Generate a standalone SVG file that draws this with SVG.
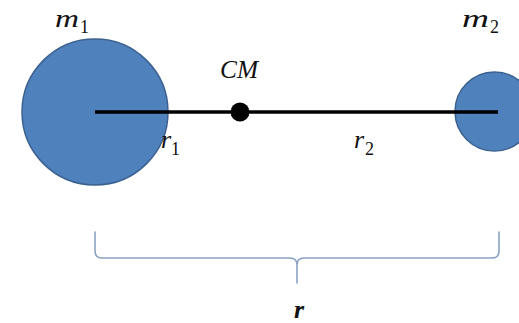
<svg xmlns="http://www.w3.org/2000/svg" width="519" height="323" viewBox="0 0 519 323">
<style>
.mass{fill:#4f81bd;stroke:#3b6190;stroke-width:1.5}
.lbl{font-family:"Liberation Serif","DejaVu Serif",serif;font-style:italic;font-size:26px;fill:#111}
.sub{font-style:normal;font-size:18px}
.brace{fill:none;stroke:#8aa3c2;stroke-width:1.6;stroke-linecap:round}
</style>
<rect width="519" height="323" fill="#fff"/>
<g id="m1">
<circle class="mass" cx="95" cy="112" r="73"/>
<text class="lbl" x="55" y="27" textLength="24" lengthAdjust="spacingAndGlyphs">m</text><text class="lbl sub" x="80" y="33">1</text>
</g>
<g id="m2">
<circle class="mass" cx="494.5" cy="111.5" r="39.5"/>
<text class="lbl" x="462" y="27" textLength="27" lengthAdjust="spacingAndGlyphs">m</text><text class="lbl sub" x="490" y="33">2</text>
</g>
<g id="connectors">
<line x1="95" y1="112" x2="498" y2="112" stroke="#000" stroke-width="3.5"/>
<path class="brace" d="M95,232 V251 Q95,258 102,258 H290 Q297,258 297,265 V283 M297,265 Q297,258 304,258 H492 Q499,258 499,251 V232"/>
</g>
<g id="cm">
<circle cx="240" cy="112" r="9.5" fill="#000"/>
<text class="lbl" x="220" y="78" textLength="38" lengthAdjust="spacingAndGlyphs">CM</text>
</g>
<g id="labels">
<text class="lbl" x="161" y="148">r</text><text class="lbl sub" x="171" y="155">1</text>
<text class="lbl" x="354" y="148">r</text><text class="lbl sub" x="365" y="155">2</text>
<text class="lbl" x="294" y="318" font-weight="bold" font-size="27">r</text>
</g>
</svg>
